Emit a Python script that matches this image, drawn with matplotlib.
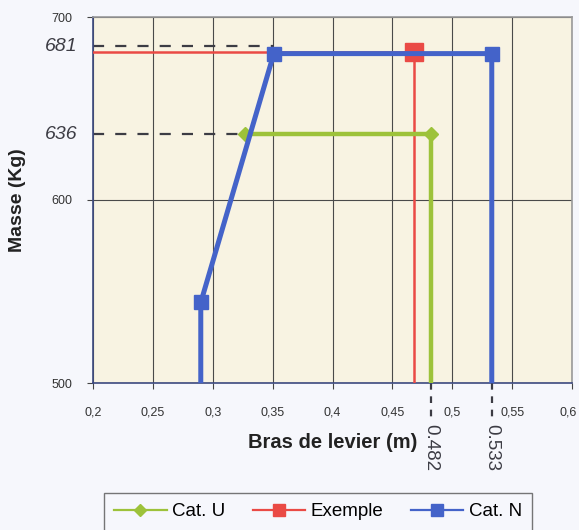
import matplotlib
matplotlib.use("Agg")
import matplotlib.pyplot as plt
import matplotlib.transforms as mtransforms
from matplotlib.lines import Line2D
from matplotlib.ticker import FixedLocator, FuncFormatter

# ---- data ----
cat_u_x = [0.327, 0.482, 0.482]
cat_u_y = [636, 636, 500]
exemple_x = [0.2, 0.468, 0.468]
exemple_y = [681, 681, 500]
cat_n_x = [0.29, 0.29, 0.351, 0.533, 0.533]
cat_n_y = [500, 544, 680, 680, 500]

x_ticks = [0.2, 0.25, 0.3, 0.35, 0.4, 0.45, 0.5, 0.55, 0.6]
y_ticks = [500, 600, 700]

# handwritten annotations
hand_y_vals = [684, 636]
hand_y_labels = ["681", "636"]
hand_y_ends = [0.351, 0.327]
hand_x_vals = [0.482, 0.533]
hand_x_labels = ["0.482", "0.533"]

plt.rcParams['font.family'] = ['Liberation Sans', 'DejaVu Sans']

fig = plt.figure(figsize=(5.79, 5.30), dpi=100, facecolor='#f6f7fc')
ax = fig.add_axes([93/579, 1-383/530, 479/579, 366/530])
ax.set_facecolor('#f8f3e2')

green = '#9dc23a'
red = '#ea4a45'
blue = '#4463c9'

ax.plot(cat_u_x, cat_u_y, color=green, lw=3.2, marker='D', ms=7,
        markevery=[0, 1], label='Cat. U', zorder=4, solid_joinstyle='miter')
ax.plot(exemple_x, exemple_y, color=red, lw=1.8, marker='s', ms=13,
        markevery=[1], label='Exemple', zorder=3)
ax.plot(cat_n_x, cat_n_y, color=blue, lw=3.6, marker='s', ms=10,
        markevery=[1, 2, 3], label='Cat. N', zorder=5, solid_joinstyle='miter')

ax.set_xlim(0.2, 0.6)
ax.set_ylim(500, 700)
ax.xaxis.set_major_locator(FixedLocator(x_ticks))
ax.yaxis.set_major_locator(FixedLocator(y_ticks))
ax.xaxis.set_major_formatter(FuncFormatter(lambda v, p: ('%g' % round(v, 2)).replace('.', ',')))
ax.grid(True, color='#4a4a4a', lw=0.8, zorder=1)
ax.set_axisbelow(True)

for s in ['top', 'right']:
    ax.spines[s].set_color('#9a9a9a')
    ax.spines[s].set_linewidth(1.2)
for s in ['left', 'bottom']:
    ax.spines[s].set_color('#3d4a80')
    ax.spines[s].set_linewidth(1.2)

ax.tick_params(axis='both', direction='out', length=4, width=0.8,
               colors='#444444', labelsize=9, labelcolor='#333333')
ax.tick_params(axis='x', pad=13)
ax.tick_params(axis='y', pad=11)

ax.set_xlabel('Bras de levier (m)', fontsize=14.5, fontweight='bold', color='#222222', labelpad=10)
ax.set_ylabel('Masse (Kg)', fontsize=14, fontweight='bold', color='#222222', labelpad=18)

# handwritten dashed lines and labels
for yv, lab, xe in zip(hand_y_vals, hand_y_labels, hand_y_ends):
    ax.plot([0.2, xe], [yv, yv], color='#3c3c44', lw=1.6, ls=(0, (5, 5)), zorder=2)
    ax.text(-0.033, yv, lab, transform=ax.get_yaxis_transform(), ha='right', va='center',
            fontsize=14, style='italic', color='#3c3c44', clip_on=False)

for xv, lab in zip(hand_x_vals, hand_x_labels):
    ln = Line2D([xv, xv], [0.0, -0.105], transform=ax.get_xaxis_transform(),
                color='#3c3c44', lw=1.6, ls=(0, (3, 3)), clip_on=False)
    ax.add_line(ln)
    ax.text(xv, -0.113, lab, transform=ax.get_xaxis_transform(), ha='center', va='top',
            rotation=-90, fontsize=13.5, color='#3c3c44', clip_on=False)

leg = fig.legend(loc='upper center', bbox_to_anchor=(318/579, 1-493/530), ncol=3,
                 frameon=True, fancybox=False, edgecolor='#555555', facecolor='#f6f7fc',
                 fontsize=13.5, handlelength=2.8, columnspacing=1.45, handletextpad=0.3,
                 borderpad=0.55, borderaxespad=0)
leg.get_frame().set_linewidth(1.0)
for h, ms in zip(leg.get_lines(), [6, 9, 9]):
    h.set_linewidth(1.6)
    h.set_markersize(ms)

# keep the last x tick label inside the figure
fig.canvas.draw()
last = ax.get_xticklabels()[-1]
last.set_transform(last.get_transform() + mtransforms.ScaledTranslation(-4/100, 0, fig.dpi_scale_trans))

fig.savefig('out.png', dpi=100, facecolor=fig.get_facecolor())
